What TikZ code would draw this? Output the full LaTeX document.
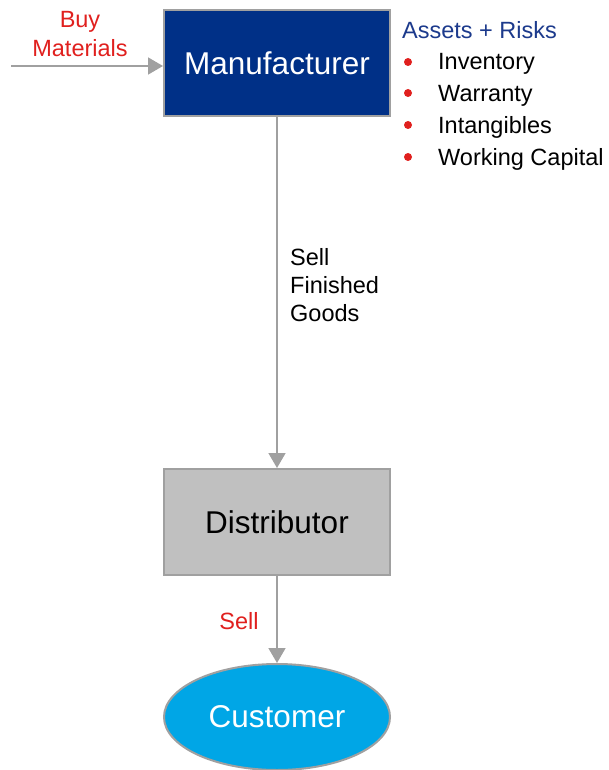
\documentclass[tikz,border=0pt]{standalone}
\usepackage{fontspec}
\setmainfont{Liberation Sans}
\usetikzlibrary{arrows.meta,shapes.geometric}
\definecolor{navy}{RGB}{0,48,135}
\definecolor{titleblue}{RGB}{28,58,140}
\definecolor{redtxt}{RGB}{224,32,30}
\definecolor{edgegray}{RGB}{160,160,160}
\definecolor{boxgray}{RGB}{192,192,192}
\definecolor{skyblue}{RGB}{0,166,230}
\tikzset{
  big/.style={font=\fontsize{31.5}{36}\selectfont},
  small/.style={font=\fontsize{23.5}{28}\selectfont},
  entity/.style={big, draw=edgegray, line width=2pt, minimum width=226pt,
    minimum height=106pt, inner sep=0pt},
  flow/.style={draw=edgegray, line width=1.6pt,
    -{Triangle[length=15pt,width=17pt]}},
  dot/.style={circle, fill=redtxt, inner sep=0pt, minimum size=8pt},
  item/.style={small, anchor=base west, inner sep=0pt},
}
\begin{document}
\begin{tikzpicture}[x=1pt,y=-1pt]
\useasboundingbox (0,0) rectangle (609,770);

% the three parties
\node[entity, fill=navy, text=white] (man) at (277,63.5) {Manufacturer};
\node[entity, fill=boxgray, text=black] (dist) at (277,522) {Distributor};
\node[big, ellipse, draw=edgegray, line width=2pt, fill=skyblue, text=white,
  minimum width=226pt, minimum height=106pt, inner sep=0pt] (cust) at (277,717) {Customer};

% incoming materials
\coordinate (src) at (11,66);
\draw[flow] (src) -- (man.west |- src);
\node[small, text=redtxt, align=center, inner sep=0pt,
  font=\fontsize{23.5}{29}\selectfont] (buy) at (80,34.5) {Buy\\Materials};

% goods flow
\draw[flow] (man.south) -- (dist.north);
\node[small, align=left, anchor=west, inner sep=0pt] (sfg) at (290,285) {Sell\\Finished\\Goods};
\draw[flow] (dist.south) -- (cust.north);
\node[small, text=redtxt, anchor=base, inner sep=0pt] (sell) at (239,629) {Sell};

% assets and risks list
\node[item, text=titleblue] (ar) at (402,38.5) {Assets + Risks};
\node[item] (i1) at (438,70) {Inventory};
\node[item] (i2) at (438,102) {Warranty};
\node[item] (i3) at (438,134) {Intangibles};
\node[item] (i4) at (438,165) {Working Capital};
\node[dot] (d1) at (408,62) {};
\node[dot] (d2) at (408,93) {};
\node[dot] (d3) at (408,125) {};
\node[dot] (d4) at (408,157) {};
\end{tikzpicture}
\end{document}
